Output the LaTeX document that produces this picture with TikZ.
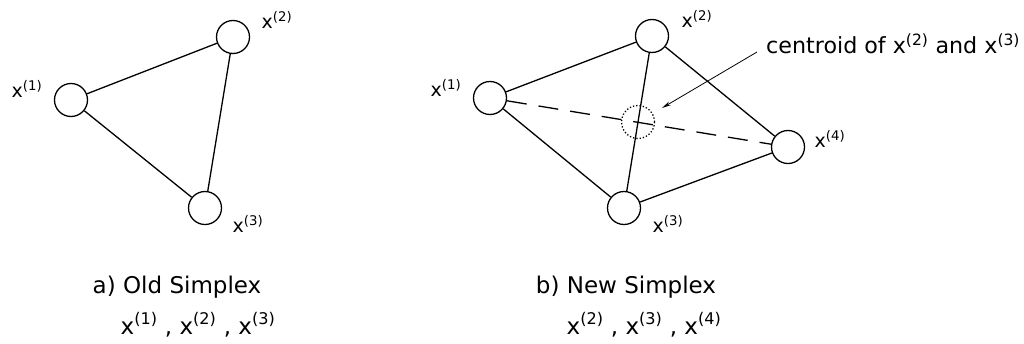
\documentclass[tikz,border=0pt]{standalone}
\usepackage{fontspec}
\setmainfont{DejaVu Sans}
\usetikzlibrary{arrows.meta,positioning}

\newcommand{\xv}[1]{x\textsuperscript{(#1)}}

\begin{document}
\begin{tikzpicture}[x=1pt, y=-1pt,
  vertex/.style={draw, circle, minimum size=33pt, inner sep=0pt, line width=1.3pt},
  edge/.style={line width=1.3pt},
  lbl/.style={font=\fontsize{19}{22}\selectfont, inner sep=0pt, anchor=base},
  captext/.style={font=\fontsize{23}{26}\selectfont, inner sep=0pt, anchor=base}]
\useasboundingbox (0,0) rectangle (1024,343);

\node[vertex] (a1) at (71,100) {};
\node[vertex] (a2) at (233,37) {};
\node[vertex] (a3) at (205,208) {};
\draw[edge] (a1) -- (a2) -- (a3) -- (a1);
\node[lbl] (la1) at (27,97) {\xv{1}};
\node[lbl] (la2) at (277,28) {\xv{2}};
\node[lbl] (la3) at (248,232) {\xv{3}};

\node[vertex] (b1) at (490,98) {};
\node[vertex] (b2) at (652,36) {};
\node[vertex] (b3) at (624,208) {};
\node[vertex] (b4) at (788,147) {};
\node[draw, circle, dotted, minimum size=33pt, inner sep=0pt, line width=1.3pt] (c) at (638,122) {};
\draw[edge] (b1) -- (b2) -- (b3) -- (b1);
\draw[edge] (b2) -- (b4) -- (b3);
\draw[edge, dash pattern=on 20pt off 12pt] (b1) -- (b4);
\node[lbl] (lb1) at (446,96) {\xv{1}};
\node[lbl] (lb2) at (697,27) {\xv{2}};
\node[lbl] (lb3) at (668,232) {\xv{3}};
\node[lbl] (lb4) at (830,147) {\xv{4}};
\node[captext, anchor=base west, font=\fontsize{22.2}{26}\selectfont] (note) at (766,53) {centroid of \xv{2} and \xv{3}};
\coordinate (s) at (757,52);
\draw[-{Stealth[length=9pt,width=4pt]}, line width=0.8pt] (s) -- ([xshift=24pt,yshift=14pt]c.center);

\node[captext] (capa) at (177,293) {a) Old Simplex};
\node[captext] (seta) at (198,334) {\xv{1} , \xv{2} , \xv{3}};
\node[captext] (capb) at (626,293) {b) New Simplex};
\node[captext] (setb) at (644,334) {\xv{2} , \xv{3} , \xv{4}};
\end{tikzpicture}
\end{document}
